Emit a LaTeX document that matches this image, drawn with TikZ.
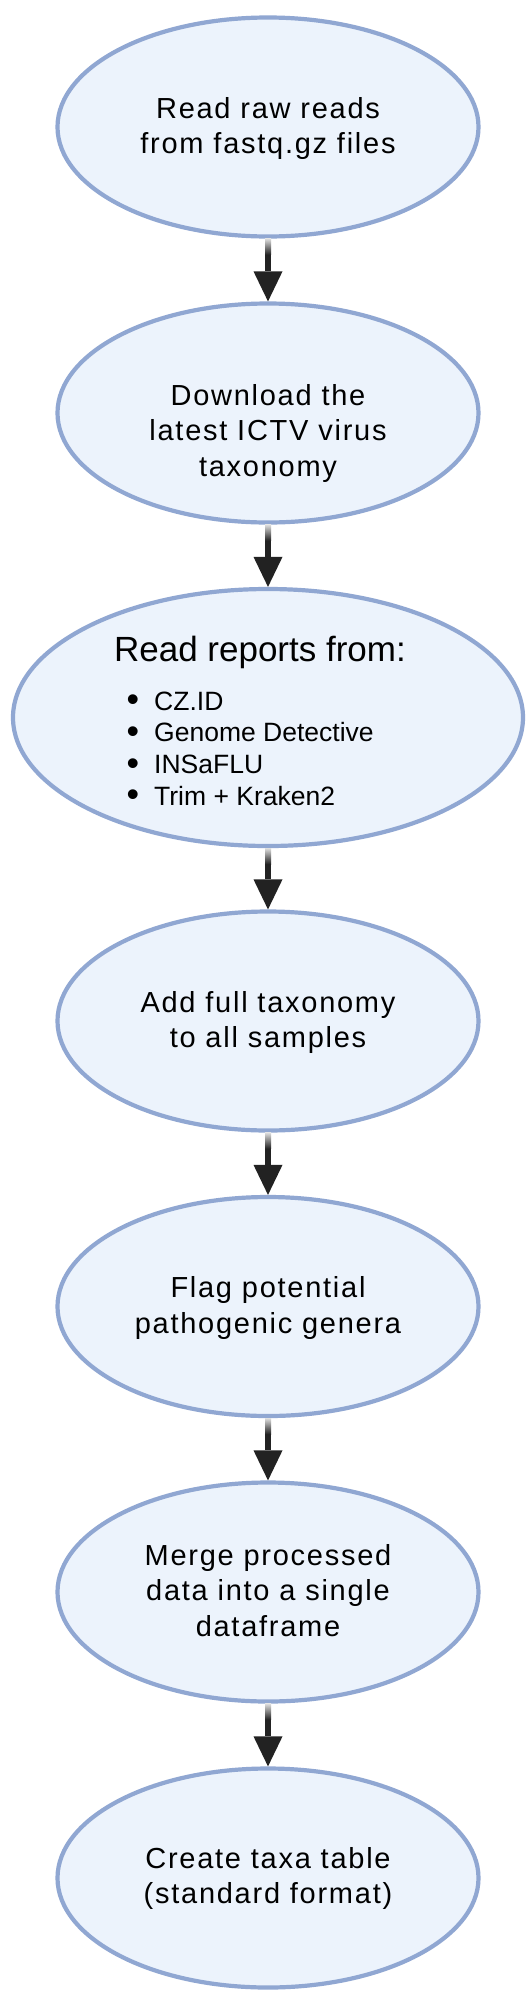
\documentclass[tikz,border=0pt]{standalone}
\usepackage{fontspec}
\usepackage{graphicx}
\setmainfont{Liberation Sans}
\newfontfamily\mainf[LetterSpace=6]{Liberation Sans}
\usetikzlibrary{shapes.geometric,arrows.meta,calc}
\definecolor{nodefill}{HTML}{ECF3FC}
\definecolor{nodeborder}{HTML}{90A7D2}
\definecolor{arrowc}{HTML}{222222}
\newcommand\lnS{\rule[-9pt]{0pt}{34pt}}
\newcommand\liS{\rule[-8pt]{0pt}{30pt}}
\newcommand\bul{\llap{\raisebox{-1.5pt}{\scalebox{1.35}{\textbullet}}\hspace{15pt}}}
\begin{document}
\begin{tikzpicture}[x=1pt,y=-1pt,
  stepnode/.style={ellipse, draw=nodeborder, fill=nodefill, line width=4.2pt,
    minimum width=421pt, minimum height=219pt, inner sep=0pt},
  bignode/.style={stepnode, minimum width=510pt, minimum height=257pt},
  steptext/.style={anchor=north, align=center, inner sep=0pt,
    font=\mainf\fontsize{29}{35.7}\selectfont},
  flow/.style={draw=arrowc, line width=6pt,
    -{Triangle[length=30pt,width=29pt,line width=0pt]}},
  fade/.style={top color=gray!25, bottom color=arrowc}]
\useasboundingbox[fill=white] (0,0) rectangle (531,2000);

\node[stepnode] (e1) at (268,127) {};
\node[stepnode] (e2) at (268,413) {};
\node[bignode]  (e3) at (268,717.5) {};
\node[stepnode] (e4) at (268,1021) {};
\node[stepnode] (e5) at (268,1306.5) {};
\node[stepnode] (e6) at (268,1592) {};
\node[stepnode] (e7) at (268,1878) {};

\node[steptext] (t1) at (268,93) {Read raw reads\lnS\\from fastq.gz files\lnS};
\node[steptext] (t2) at (268,380) {Download the\lnS\\latest ICTV virus\lnS\\taxonomy\lnS};
\node[anchor=base, inner sep=0pt, font=\fontsize{35}{42}\selectfont] (t3h) at (260,661) {Read reports from:};
\node[anchor=north west, align=left, inner sep=0pt, font=\fontsize{26.5}{31.7}\selectfont] (t3l) at (154,688)
  {\bul CZ.ID\liS\\\bul Genome Detective\liS\\\bul INSaFLU\liS\\\bul Trim + Kraken2\liS};
\node[steptext] (t4) at (268,987) {Add full taxonomy\lnS\\to all samples\lnS};
\node[steptext] (t5) at (268,1272.5) {Flag potential\lnS\\pathogenic genera\lnS};
\node[steptext] (t6) at (268,1540) {Merge processed\lnS\\data into a single\lnS\\dataframe\lnS};
\node[steptext] (t7) at (268,1843) {Create taxa table\lnS\\(standard format)\lnS};

\foreach \a/\b in {e1/e2,e2/e3,e3/e4,e4/e5,e5/e6,e6/e7}{
  \draw[flow] (\a.south) -- (\b.north);
  \shade[fade] ($(\a.south)+(-3,0)$) rectangle ($(\a.south)+(3,16)$);
}
\end{tikzpicture}
\end{document}
